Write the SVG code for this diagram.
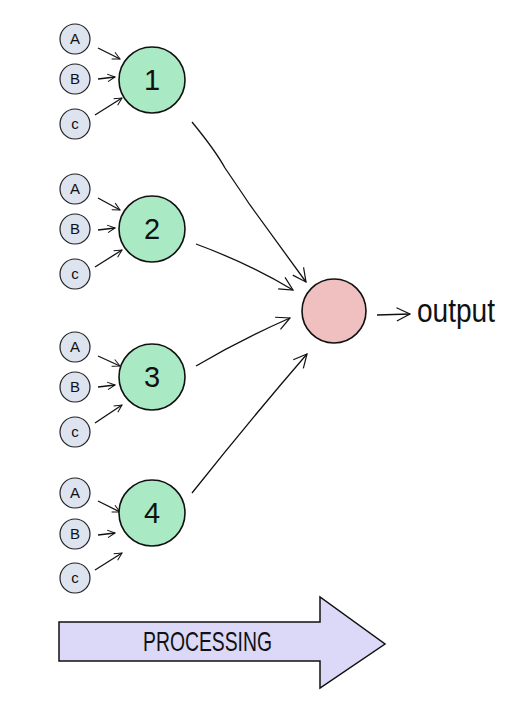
<svg xmlns="http://www.w3.org/2000/svg" width="520" height="712" viewBox="0 0 520 712">
<style>
.in{fill:#dde4f0;stroke:#222;stroke-width:1.2}
.hid{fill:#a9e9c4;stroke:#111;stroke-width:1.6}
.out{fill:#f0bfc0;stroke:#111;stroke-width:1.6}
.lt{font-family:"Liberation Sans",Arial,sans-serif;font-size:15px;fill:#111;text-anchor:middle}
.nt{font-family:"Liberation Sans",Arial,sans-serif;font-size:29px;font-weight:300;fill:#111;text-anchor:middle}
.ln{fill:none;stroke:#111;stroke-width:1.3;marker-end:url(#ah)}
.big{fill:none;stroke:#111;stroke-width:1.3;marker-end:url(#ahb)}
</style>
<defs>
<marker id="ah" viewBox="0 0 12 12" refX="11" refY="6" markerWidth="9" markerHeight="9" orient="auto" markerUnits="userSpaceOnUse">
<path d="M1,1 L11,6 L1,11" fill="none" stroke="#111" stroke-width="1.3"/>
</marker>
<marker id="ahb" viewBox="0 0 12 12" refX="11" refY="6" markerWidth="16" markerHeight="16" orient="auto" markerUnits="userSpaceOnUse">
<path d="M1,1 L11,6 L1,11" fill="none" stroke="#111" stroke-width="0.9"/>
</marker>
</defs>
<rect width="520" height="712" fill="#fff"/>

<g id="connectors">
<line class="ln" x1="98" y1="48" x2="120" y2="59"/>
<line class="ln" x1="98" y1="79" x2="115" y2="77"/>
<line class="ln" x1="95" y1="115" x2="122" y2="98"/>
<line class="ln" x1="98" y1="198" x2="120" y2="210"/>
<line class="ln" x1="98" y1="230" x2="115" y2="228"/>
<line class="ln" x1="95" y1="267" x2="122" y2="250"/>
<line class="ln" x1="98" y1="356" x2="120" y2="366"/>
<line class="ln" x1="98" y1="387" x2="115" y2="385"/>
<line class="ln" x1="95" y1="423" x2="122" y2="405"/>
<line class="ln" x1="98" y1="501" x2="120" y2="512"/>
<line class="ln" x1="98" y1="535" x2="115" y2="533"/>
<line class="ln" x1="95" y1="570" x2="122" y2="553"/>
<path class="big" d="M192,122 Q215,150 225,168 Q240,190 250,205 L306,282"/>
<path class="big" d="M196,244 Q250,264 293,290"/>
<path class="big" d="M196,366 Q240,340 290,318"/>
<path class="big" d="M192,493 Q250,420 307,354"/>
<line class="big" x1="377" y1="315" x2="410" y2="314"/>
</g>

<g id="group1">
<g id="a1"><circle class="in" cx="75" cy="39" r="15"/><text class="lt" x="75" y="44">A</text></g>
<g id="b1"><circle class="in" cx="75" cy="79" r="15"/><text class="lt" x="75" y="84">B</text></g>
<g id="c1"><circle class="in" cx="75" cy="124" r="15"/><text class="lt" x="75" y="129">c</text></g>
<g id="n1"><circle class="hid" cx="152" cy="80" r="33"/><text class="nt" x="152" y="90">1</text></g>
</g>
<g id="group2">
<g id="a2"><circle class="in" cx="75" cy="189" r="15"/><text class="lt" x="75" y="194">A</text></g>
<g id="b2"><circle class="in" cx="75" cy="229" r="15"/><text class="lt" x="75" y="234">B</text></g>
<g id="c2"><circle class="in" cx="75" cy="274" r="15"/><text class="lt" x="75" y="279">c</text></g>
<g id="n2"><circle class="hid" cx="152" cy="229" r="33"/><text class="nt" x="152" y="239">2</text></g>
</g>
<g id="group3">
<g id="a3"><circle class="in" cx="75" cy="347" r="15"/><text class="lt" x="75" y="352">A</text></g>
<g id="b3"><circle class="in" cx="75" cy="387" r="15"/><text class="lt" x="75" y="392">B</text></g>
<g id="c3"><circle class="in" cx="75" cy="432" r="15"/><text class="lt" x="75" y="437">c</text></g>
<g id="n3"><circle class="hid" cx="152" cy="377" r="33"/><text class="nt" x="152" y="387">3</text></g>
</g>
<g id="group4">
<g id="a4"><circle class="in" cx="75" cy="493" r="15"/><text class="lt" x="75" y="498">A</text></g>
<g id="b4"><circle class="in" cx="75" cy="534" r="15"/><text class="lt" x="75" y="539">B</text></g>
<g id="c4"><circle class="in" cx="75" cy="578" r="15"/><text class="lt" x="75" y="583">c</text></g>
<g id="n4"><circle class="hid" cx="152" cy="513" r="33"/><text class="nt" x="152" y="523">4</text></g>
</g>

<g id="output">
<circle class="out" cx="334" cy="311" r="32"/>
<text x="417" y="322" font-family="Liberation Sans, Arial, sans-serif" font-size="33" font-weight="300" fill="#111" textLength="78" lengthAdjust="spacingAndGlyphs">output</text>
</g>

<g id="processing">
<path d="M59,622 L320,622 L320,597 L385,644 L320,688 L320,661 L59,661 Z" fill="#dcd8f7" stroke="#111" stroke-width="1.5" stroke-linejoin="miter"/>
<text x="143" y="651" font-family="Liberation Sans, Arial, sans-serif" font-size="28" font-weight="300" fill="#111" textLength="129" lengthAdjust="spacingAndGlyphs">PROCESSING</text>
</g>
</svg>
